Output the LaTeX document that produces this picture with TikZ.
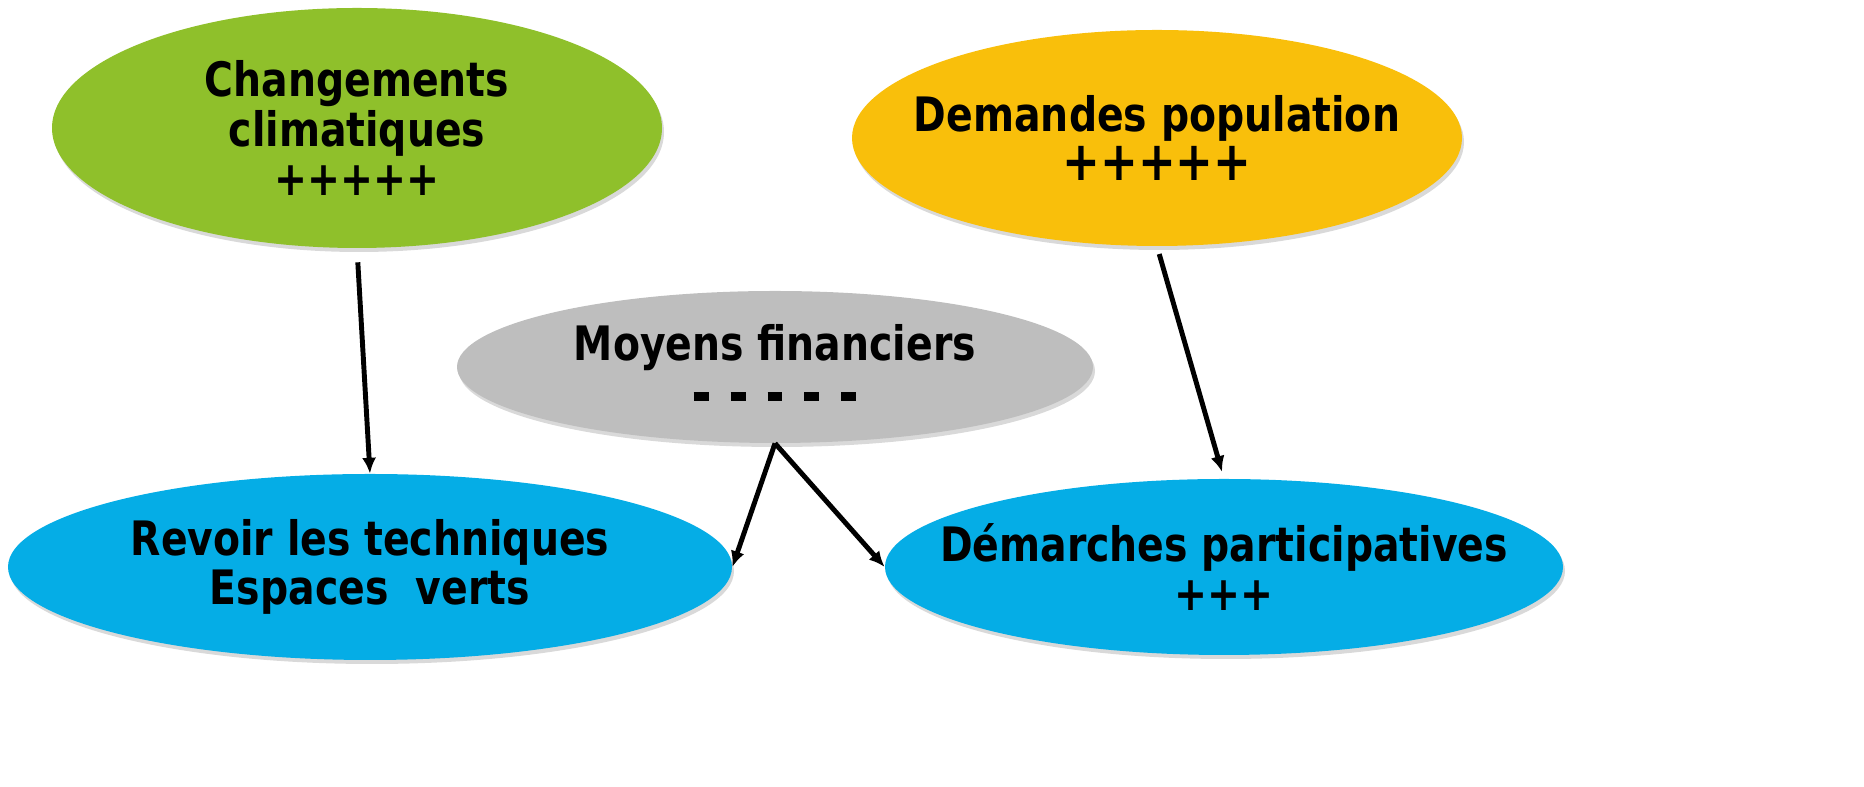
\documentclass[tikz,border=0pt]{standalone}
\usepackage{fontspec}
\setmainfont{DejaVu Sans}[FakeStretch=0.83]
\usepackage{tikz}
\usetikzlibrary{arrows.meta, shapes.geometric, shadows}
\definecolor{climgreen}{HTML}{8FC02B}
\definecolor{popyellow}{HTML}{F9BF0B}
\definecolor{fingray}{HTML}{BEBEBE}
\definecolor{actblue}{HTML}{05ADE6}
\newcommand{\lackbar}{\rule[5pt]{8.5pt}{4.8pt}}

\begin{document}
\begin{tikzpicture}
\tikzstyle{oval}=[ellipse, inner sep=0pt, drop shadow={shadow xshift=0.04cm, shadow yshift=-0.08cm, opacity=0.3}]
\tikzstyle{txt}=[align=center, font=\bfseries\fontsize{27}{28}\selectfont]
\tikzstyle{connect}=[-{Latex[length=9pt,width=8pt]}, line width=2.8pt]
\useasboundingbox (0,0) rectangle (37.28,15.74);
\node[oval, fill=climgreen, minimum width=12.2cm, minimum height=4.8cm, label={[txt]center:{Changements\\climatiques\\+++++}}] (cc) at (7.14,13.18) {};
\node[oval, fill=popyellow, minimum width=12.2cm, minimum height=4.32cm, label={[txt]center:{Demandes population\\{\fontsize{31}{28}\selectfont +++++}}}] (dp) at (23.14,12.98) {};
\node[oval, fill=fingray, minimum width=12.72cm, minimum height=3.04cm, label={[txt]center:{Moyens financiers\\\lackbar\hspace{12.5pt}\lackbar\hspace{12.5pt}\lackbar\hspace{12.5pt}\lackbar\hspace{12.5pt}\lackbar}}] (mf) at (15.5,8.4) {};
\node[oval, fill=actblue, minimum width=14.48cm, minimum height=3.72cm, label={[txt]center:{Revoir les techniques\\Espaces~~verts}}] (rt) at (7.4,4.4) {};
\node[oval, fill=actblue, minimum width=13.56cm, minimum height=3.52cm, label={[txt]center:{Démarches participatives\\+++}}] (dm) at (24.48,4.4) {};
\path (cc.south) edge [connect, shorten <=0.28cm] (rt.north);
\path (dp.south) edge [connect, shorten <=0.16cm, shorten >=0.14cm] (dm.north);
\path (mf.south) edge [connect] (rt.east);
\path (mf.south) edge [connect] (dm.west);
\end{tikzpicture}
\end{document}
